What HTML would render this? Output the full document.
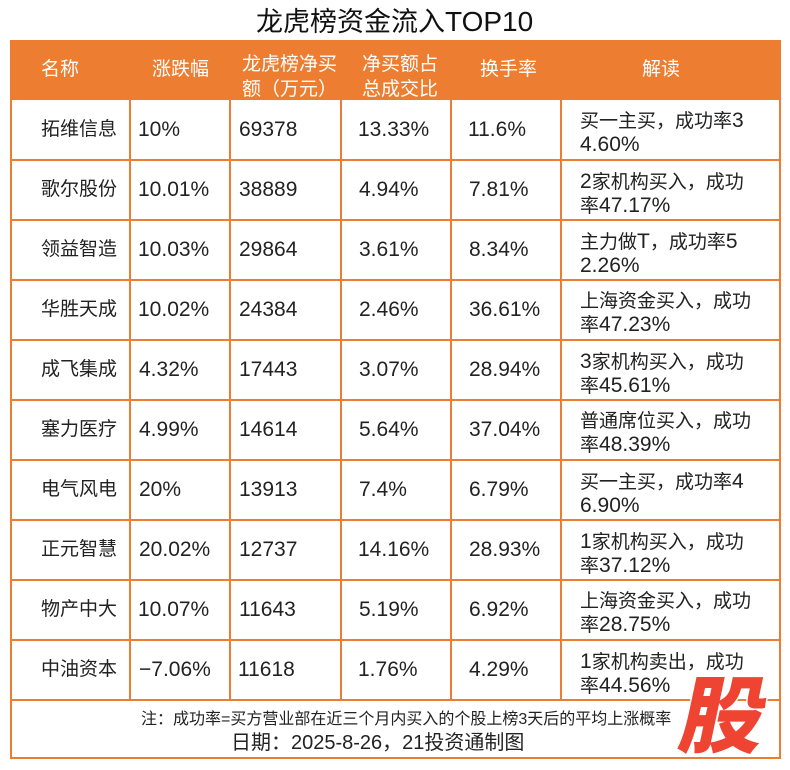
<!DOCTYPE html>
<html><head><meta charset="utf-8">
<style>
html,body{margin:0;padding:0;background:#fff;}
#w{position:relative;width:790px;height:770px;overflow:hidden;background:#fff;}
.a{position:absolute;}
.t{position:absolute;font-family:"Liberation Sans","Noto Sans CJK SC",sans-serif;font-size:19px;line-height:24px;color:#222;white-space:nowrap;}
.h{color:#fff;}
.n{font-size:21px;}
.hl{position:absolute;left:10px;width:771px;height:2px;background:#ed7d31;}
.vl{position:absolute;top:100px;width:2px;height:600px;background:#ed7d31;}
.w2{line-height:23px;}
</style></head><body><div id="w">

<div class="t" style="left:256px;top:4px;line-height:36px;font-size:27px;color:#111;">龙虎榜资金流入<span style="font-size:28px">TOP10</span></div>

<div class="a" style="left:10px;top:40px;width:771px;height:60px;background:#ed7d31;"></div>
<div class="a" style="left:10px;top:40px;width:771px;height:719px;border:2px solid #ed7d31;box-sizing:border-box;"></div>

<div class="hl" style="top:159px"></div>
<div class="hl" style="top:219px"></div>
<div class="hl" style="top:279px"></div>
<div class="hl" style="top:339px"></div>
<div class="hl" style="top:399px"></div>
<div class="hl" style="top:459px"></div>
<div class="hl" style="top:519px"></div>
<div class="hl" style="top:579px"></div>
<div class="hl" style="top:639px"></div>
<div class="hl" style="top:699px"></div>

<div class="vl" style="left:129px"></div>
<div class="vl" style="left:229px"></div>
<div class="vl" style="left:340px"></div>
<div class="vl" style="left:450px"></div>
<div class="vl" style="left:560px"></div>

<!-- header -->
<div class="t h" style="left:41px;top:58px;">名称</div>
<div class="t h" style="left:152px;top:58px;">涨跌幅</div>
<div class="t h" style="left:242px;top:53px;line-height:24.5px;">龙虎榜净买<br>额（万元）</div>
<div class="t h" style="left:362px;top:53px;line-height:24.5px;">净买额占<br>总成交比</div>
<div class="t h" style="left:480px;top:58px;">换手率</div>
<div class="t h" style="left:642px;top:58px;">解读</div>

<!-- row 1 -->
<div class="t" style="left:41px;top:118px;">拓维信息</div>
<div class="t n" style="left:138px;top:118px;">10%</div>
<div class="t n" style="left:239px;top:118px;">69378</div>
<div class="t n" style="left:358px;top:118px;">13.33%</div>
<div class="t n" style="left:468px;top:118px;">11.6%</div>
<div class="t w2" style="left:580px;top:109px;">买一主买，成功率<span class="n">3</span><br><span class="n">4.60%</span></div>

<!-- row 2 -->
<div class="t" style="left:41px;top:178px;">歌尔股份</div>
<div class="t n" style="left:138px;top:178px;">10.01%</div>
<div class="t n" style="left:239px;top:178px;">38889</div>
<div class="t n" style="left:359px;top:178px;">4.94%</div>
<div class="t n" style="left:469px;top:178px;">7.81%</div>
<div class="t w2" style="left:580px;top:170px;"><span class="n">2</span>家机构买入，成功<br>率<span class="n">47.17%</span></div>

<!-- row 3 -->
<div class="t" style="left:41px;top:238px;">领益智造</div>
<div class="t n" style="left:138px;top:238px;">10.03%</div>
<div class="t n" style="left:239px;top:238px;">29864</div>
<div class="t n" style="left:359px;top:238px;">3.61%</div>
<div class="t n" style="left:469px;top:238px;">8.34%</div>
<div class="t w2" style="left:580px;top:230px;">主力做<span class="n">T</span>，成功率<span class="n">5</span><br><span class="n">2.26%</span></div>

<!-- row 4 -->
<div class="t" style="left:41px;top:298px;">华胜天成</div>
<div class="t n" style="left:138px;top:298px;">10.02%</div>
<div class="t n" style="left:239px;top:298px;">24384</div>
<div class="t n" style="left:359px;top:298px;">2.46%</div>
<div class="t n" style="left:469px;top:298px;">36.61%</div>
<div class="t w2" style="left:580px;top:290px;">上海资金买入，成功<br>率<span class="n">47.23%</span></div>

<!-- row 5 -->
<div class="t" style="left:41px;top:358px;">成飞集成</div>
<div class="t n" style="left:139px;top:358px;">4.32%</div>
<div class="t n" style="left:239px;top:358px;">17443</div>
<div class="t n" style="left:359px;top:358px;">3.07%</div>
<div class="t n" style="left:469px;top:358px;">28.94%</div>
<div class="t w2" style="left:580px;top:350px;"><span class="n">3</span>家机构买入，成功<br>率<span class="n">45.61%</span></div>

<!-- row 6 -->
<div class="t" style="left:41px;top:418px;">塞力医疗</div>
<div class="t n" style="left:139px;top:418px;">4.99%</div>
<div class="t n" style="left:239px;top:418px;">14614</div>
<div class="t n" style="left:359px;top:418px;">5.64%</div>
<div class="t n" style="left:469px;top:418px;">37.04%</div>
<div class="t w2" style="left:580px;top:410px;">普通席位买入，成功<br>率<span class="n">48.39%</span></div>

<!-- row 7 -->
<div class="t" style="left:41px;top:478px;">电气风电</div>
<div class="t n" style="left:139px;top:478px;">20%</div>
<div class="t n" style="left:239px;top:478px;">13913</div>
<div class="t n" style="left:359px;top:478px;">7.4%</div>
<div class="t n" style="left:469px;top:478px;">6.79%</div>
<div class="t w2" style="left:580px;top:470px;">买一主买，成功率<span class="n">4</span><br><span class="n">6.90%</span></div>

<!-- row 8 -->
<div class="t" style="left:41px;top:538px;">正元智慧</div>
<div class="t n" style="left:139px;top:538px;">20.02%</div>
<div class="t n" style="left:239px;top:538px;">12737</div>
<div class="t n" style="left:358px;top:538px;">14.16%</div>
<div class="t n" style="left:469px;top:538px;">28.93%</div>
<div class="t w2" style="left:580px;top:530px;"><span class="n">1</span>家机构买入，成功<br>率<span class="n">37.12%</span></div>

<!-- row 9 -->
<div class="t" style="left:41px;top:598px;">物产中大</div>
<div class="t n" style="left:138px;top:598px;">10.07%</div>
<div class="t n" style="left:239px;top:598px;">11643</div>
<div class="t n" style="left:359px;top:598px;">5.19%</div>
<div class="t n" style="left:469px;top:598px;">6.92%</div>
<div class="t w2" style="left:580px;top:590px;">上海资金买入，成功<br>率<span class="n">28.75%</span></div>

<!-- row 10 -->
<div class="t" style="left:41px;top:658px;">中油资本</div>
<div class="t n" style="left:139px;top:658px;">−7.06%</div>
<div class="t n" style="left:238px;top:658px;">11618</div>
<div class="t n" style="left:358px;top:658px;">1.76%</div>
<div class="t n" style="left:469px;top:658px;">4.29%</div>
<div class="t w2" style="left:580px;top:650px;"><span class="n">1</span>家机构卖出，成功<br>率<span class="n">44.56%</span></div>

<!-- footer -->
<div class="t" style="left:141px;top:708px;font-size:16px;line-height:24px;">注：成功率=买方营业部在近三个月内买入的个股上榜3天后的平均上涨概率</div>
<div class="t" style="left:231px;top:731px;font-size:20px;line-height:25px;">日期：2025-8-26，21投资通制图</div>

<svg class="a" style="left:0;top:0" width="790" height="770" xmlns="http://www.w3.org/2000/svg">
<text x="0" y="0" transform="translate(676,746) skewX(-12)" font-family="Noto Sans CJK SC, sans-serif" font-weight="900" font-size="84" fill="#ee4431" stroke="#fff" stroke-width="3" paint-order="stroke">股</text>
</svg>

</div></body></html>
